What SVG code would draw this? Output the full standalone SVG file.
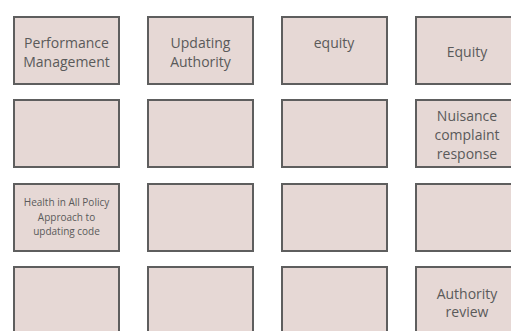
<svg xmlns="http://www.w3.org/2000/svg" width="511" height="331" viewBox="0 0 511 331">
<style>
.b{fill:#e6d8d5;stroke:#5e5e5e;stroke-width:2}
.t{font-family:"Open Sans",sans-serif;font-size:14px;fill:#5a5a5a;text-anchor:middle}
.s{font-family:"Open Sans",sans-serif;font-size:10px;fill:#5a5a5a;text-anchor:middle}
</style>
<rect width="511" height="331" fill="#ffffff"/>
<g id="connectors"/>
<g id="n1"><rect class="b" x="14" y="17" width="105" height="67"/><text class="t" x="66.5" y="47.5">Performance</text><text class="t" x="66.5" y="66.5">Management</text></g>
<g id="n2"><rect class="b" x="148" y="17" width="105" height="67"/><text class="t" x="200.5" y="47.5">Updating</text><text class="t" x="200.5" y="66.5">Authority</text></g>
<g id="n3"><rect class="b" x="282" y="17" width="105" height="67"/><text class="t" x="334" y="47.5">equity</text></g>
<g id="n4"><rect class="b" x="416" y="17" width="105" height="67"/><text class="t" x="467" y="56.5">Equity</text></g>
<g id="n5"><rect class="b" x="14" y="100" width="105" height="67"/></g>
<g id="n6"><rect class="b" x="148" y="100" width="105" height="67"/></g>
<g id="n7"><rect class="b" x="282" y="100" width="105" height="67"/></g>
<g id="n8"><rect class="b" x="416" y="100" width="105" height="67"/><text class="t" x="467" y="120.5">Nuisance</text><text class="t" x="467" y="139.5">complaint</text><text class="t" x="467" y="158.5">response</text></g>
<g id="n9"><rect class="b" x="14" y="184" width="105" height="67"/><text class="s" x="66.5" y="206">Health in All Policy</text><text class="s" x="66.5" y="220.5">Approach to</text><text class="s" x="66.5" y="235">updating code</text></g>
<g id="n10"><rect class="b" x="148" y="184" width="105" height="67"/></g>
<g id="n11"><rect class="b" x="282" y="184" width="105" height="67"/></g>
<g id="n12"><rect class="b" x="416" y="184" width="105" height="67"/></g>
<g id="n13"><rect class="b" x="14" y="267" width="105" height="67"/></g>
<g id="n14"><rect class="b" x="148" y="267" width="105" height="67"/></g>
<g id="n15"><rect class="b" x="282" y="267" width="105" height="67"/></g>
<g id="n16"><rect class="b" x="416" y="267" width="105" height="67"/><text class="t" x="467" y="298.5">Authority</text><text class="t" x="467" y="317">review</text></g>
</svg>
